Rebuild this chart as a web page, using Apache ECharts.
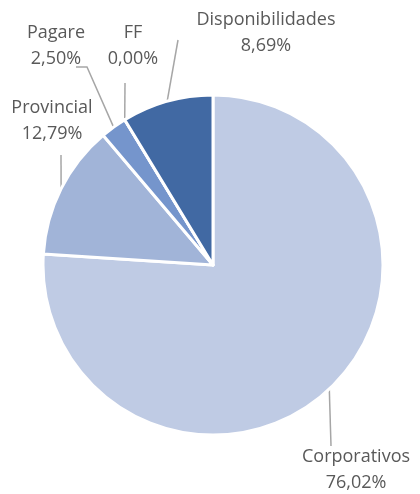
<!DOCTYPE html>
<html>
<head>
<meta charset="utf-8">
<script src="https://cdn.jsdelivr.net/npm/echarts@6/dist/echarts.min.js"></script>
<style>
html,body{margin:0;padding:0;background:#fff;}
#chart{width:420px;height:494px;}
</style>
</head>
<body>
<div id="chart"></div>
<script>
var categories = ['Corporativos', 'Provincial', 'Pagare', 'FF', 'Disponibilidades'];
var values = [76.02, 12.79, 2.50, 0.00, 8.69];
var colors = ['#bfcbe4', '#a1b4d8', '#7595cc', '#7595cc', '#4169a3'];

// label placement (layout only): label centre and leader-line end points
var labelPlace = [
  {x: 356, y: 470, line: [[331, 446]]},
  {x: 52, y: 121, line: [[61, 155]]},
  {x: 56, y: 46, line: [[87, 67], [76, 67]]},
  {x: 133, y: 46, line: [[125, 83]]},
  {x: 266, y: 33, line: [[178, 40]]}
];

var chart = echarts.init(document.getElementById('chart'), null, {renderer: 'canvas'});
var data = categories.map(function (c, i) {
  return {name: c, value: values[i], itemStyle: {color: colors[i]}};
});
chart.setOption({
  animation: false,
  backgroundColor: '#ffffff',
  series: [{
    type: 'pie',
    center: [213, 265],
    radius: [0, 170],
    startAngle: 90,
    clockwise: true,
    avoidLabelOverlap: false,
    data: data,
    itemStyle: {borderColor: '#ffffff', borderWidth: 3},
    label: {
      show: true,
      position: 'outside',
      color: '#595959',
      fontFamily: 'Open Sans',
      fontSize: 18,
      lineHeight: 26,
      align: 'center',
      formatter: function (p) {
        return p.name + '\n' + p.value.toFixed(2).replace('.', ',') + '%';
      }
    },
    labelLine: {
      show: true,
      length: 10,
      length2: 0,
      smooth: false,
      lineStyle: {color: '#a6a6a6', width: 1.5}
    },
    emphasis: {disabled: true},
    labelLayout: function (params) {
      var lp = labelPlace[params.dataIndex];
      var p0 = params.labelLinePoints ? params.labelLinePoints[0] : null;
      var pts = p0 ? [p0].concat(lp.line) : null;
      if (pts && pts.length === 2) {
        pts = [p0, lp.line[0], lp.line[0]];
      }
      var res = {x: lp.x, y: lp.y, align: 'center', verticalAlign: 'middle'};
      if (pts) res.labelLinePoints = pts;
      return res;
    }
  }]
});
</script>
</body>
</html>
